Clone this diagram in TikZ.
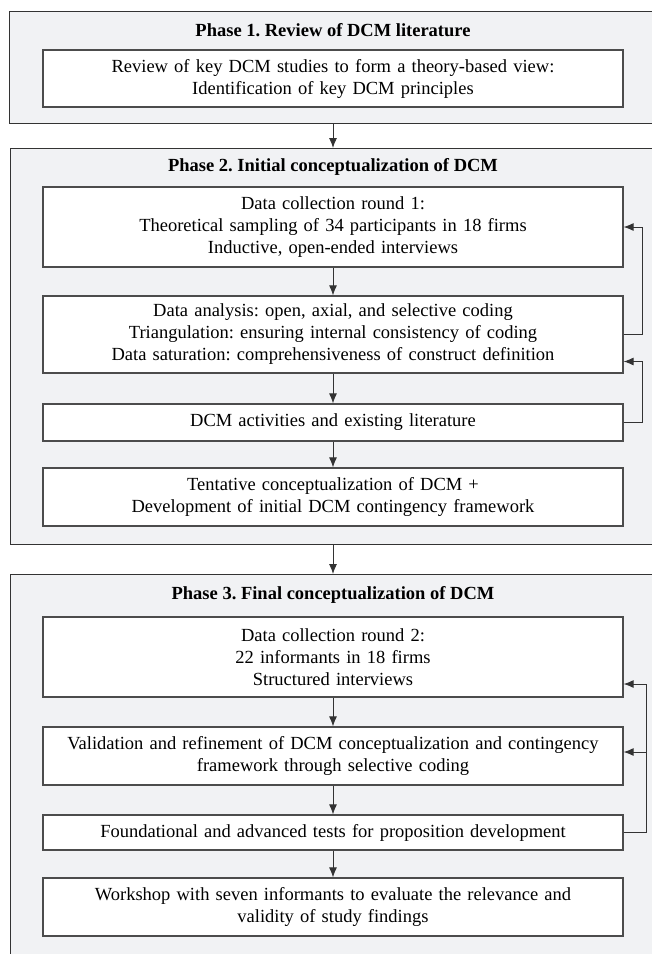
\documentclass[tikz,border=0pt]{standalone}
\usepackage{fontspec}
\setmainfont{Liberation Serif}
\frenchspacing
\usetikzlibrary{arrows.meta}
\usetikzlibrary{calc}
\definecolor{framegray}{HTML}{F1F2F4}
\tikzset{phase frame/.style={draw=black!80,
                             line width=0.9pt,
                             fill=framegray,
                             inner sep=0pt}}
\tikzset{step box/.style={draw=black!70,
                          line width=1.3pt,
                          fill=white,
                          minimum width=580pt,
                          text width=578pt,
                          align=center,
                          inner sep=0pt,
                          font=\fontsize{18.5}{22}\selectfont}}
\tikzset{phase title/.style={font=\fontsize{18.5}{22}\selectfont\bfseries}}
\tikzset{edge/.style={draw=black!80,
                      line width=0.9pt,
                      -{Latex[length=10pt,width=8pt]}}}

\begin{document}
\begin{tikzpicture}[x=1pt,y=-1pt]
      \useasboundingbox (0,0) rectangle (652,954);

      % phase frames
      \foreach \i/\x/\y/\h in {F1/9/11/112, F2/10/148/396, F3/10/574/450}
      {
      \node [phase frame,anchor=north west,minimum width=700pt,minimum height=\h*1pt] (\i) at (\x,\y) {};
      }

      % phase titles
      \node [phase title] (T1) at (333,30)  {Phase 1. Review of DCM literature};
      \node [phase title] (T2) at (333,167) {Phase 2. Initial conceptualization of DCM};
      \node [phase title] (T3) at (333,595) {Phase 3. Final conceptualization of DCM};

      % steps
      \foreach \i/\y/\h/\l in
      {
      S0/78.5/57/{Review of key DCM studies to form a theory-based view:\\Identification of key DCM principles},
      A/227/80/{Data collection round 1:\\Theoretical sampling of 34 participants in 18 firms\\Inductive, open-ended interviews},
      B/334.5/77/{Data analysis: open, axial, and selective coding\\Triangulation: ensuring internal consistency of coding\\Data saturation: comprehensiveness of construct definition},
      C/422.5/37/{DCM activities and existing literature},
      D/497/58/{Tentative conceptualization of DCM +\\Development of initial DCM contingency framework},
      E/657/80/{Data collection round 2:\\22 informants in 18 firms\\Structured interviews},
      F/756/58/{Validation and refinement of DCM conceptualization and contingency\\framework through selective coding},
      G/832.5/35/{Foundational and advanced tests for proposition development},
      H/907/58/{Workshop with seven informants to evaluate the relevance and\\validity of study findings}
      }
      {
      \node [step box,minimum height=\h*1pt] (\i) at (333,\y) {\l};
      }

      \coordinate (R2) at (642,0);
      \coordinate (R3) at (646,0);

      % between phases
      \path [edge] (S0.south |- F1.south) -- (S0.south |- F2.north);
      \path [edge] (S0.south |- F2.south) -- (S0.south |- F3.north);

      % phase 2
      \path [edge] (A) -- (B);
      \path [edge] (B) -- (C);
      \path [edge] (C) -- (D);
      \path [edge] (B.east) -- (B.east -| R2) -- (A.east -| R2) -- (A.east);
      \path [edge] (C.east) -- (C.east -| R2) -- ($(B.east -| R2)+(0,27)$) -- ($(B.east)+(0,27)$);

      % phase 3
      \path [edge] (E) -- (F);
      \path [edge] (F) -- (G);
      \path [edge] (G) -- (H);
      \path [edge] (G.east) -- (G.east -| R3) -- ($(E.east -| R3)+(0,27)$) -- ($(E.east)+(0,27)$);
      \path [edge] ($(F.east -| R3)+(0,-4)$) -- ($(F.east)+(0,-4)$);

\end{tikzpicture}
\end{document}
